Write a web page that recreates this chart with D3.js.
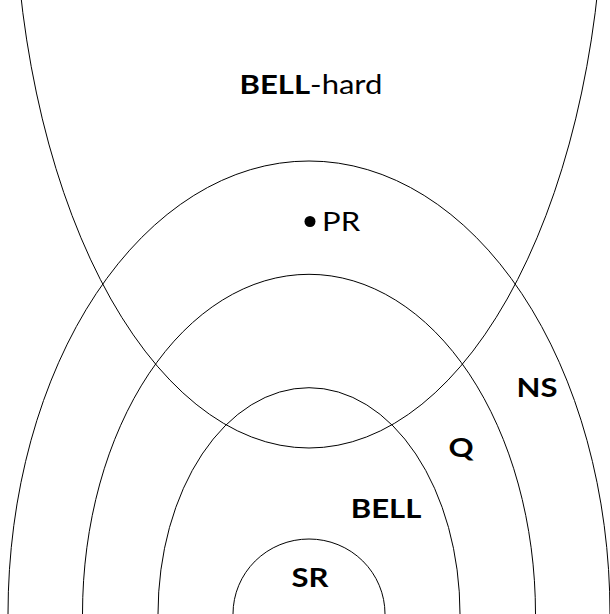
<!DOCTYPE html>
<html>
<head>
<meta charset="utf-8">
<script src="https://cdn.jsdelivr.net/npm/d3@7"></script>
<style>
  body { margin: 0; background: #fff; }
  svg { display: block; }
  text { font-family: Lato, "Open Sans", sans-serif; fill: #000; }
</style>
</head>
<body>
<svg id="diagram" width="610" height="614"></svg>
<script>
// nested classes, all centred on the bottom middle of the picture
var classes = ['SR', 'BELL', 'Q', 'NS'];
var classRx = [76, 151, 226.5, 301];
var classRy = [75, 226.3, 339.7, 453];

// the BELL-hard region: an ellipse hanging from above
var hardName = 'BELL-hard';
var hardCenter = [0, 741];
var hardRx = 295;
var hardRy = 575;

// labels, in diagram units (x from the centre line, y up from the bottom)
var labelNames = ['BELL-hard', 'PR', 'NS', 'Q', 'BELL', 'SR'];
var labelX = [2, 13, 228, 152, 77, 1];
var labelY = [520.5, 383, 216.7, 157, 95.7, 27.3];
var prPoint = [1, 392.5];

var svg = d3.select('#diagram'),
	width = +svg.attr('width'),
	height = +svg.attr('height');

var x = d3.scaleLinear().domain([-309, 301]).range([0, width]),
	y = d3.scaleLinear().domain([0, 614]).range([height, 0]);

var g = svg.append('g');

g.selectAll('.cls')
	.data(classes)
	.enter().append('ellipse')
	.attr('class', 'cls')
	.attr('cx', x(0))
	.attr('cy', y(0))
	.attr('rx', function(d, i) { return x(classRx[i]) - x(0); })
	.attr('ry', function(d, i) { return y(0) - y(classRy[i]); })
	.attr('fill', 'none')
	.attr('stroke', '#000')
	.attr('stroke-width', 1);

g.append('ellipse')
	.attr('class', 'hard')
	.attr('cx', x(hardCenter[0]))
	.attr('cy', y(hardCenter[1]))
	.attr('rx', x(hardRx) - x(0))
	.attr('ry', y(0) - y(hardRy))
	.attr('fill', 'none')
	.attr('stroke', '#000')
	.attr('stroke-width', 1);

g.append('circle')
	.attr('cx', x(prPoint[0]))
	.attr('cy', y(prPoint[1]))
	.attr('r', 5.5)
	.attr('fill', '#000');

var labels = g.selectAll('.label')
	.data(labelNames)
	.enter().append('text')
	.attr('class', 'label')
	.attr('transform', function(d, i) {
		return 'translate(' + x(labelX[i]) + ',' + y(labelY[i]) + ') scale(1.15,1)';
	})
	.attr('text-anchor', function(d) { return d === 'PR' ? 'start' : 'middle'; })
	.style('font-size', '27px')
	.style('font-weight', function(d) { return d === 'PR' ? 'normal' : 'bold'; });

labels.each(function(d) {
	var t = d3.select(this);
	if (d === hardName) {
		t.append('tspan').style('font-weight', 'bold').text('BELL');
		t.append('tspan').style('font-weight', 'normal').text('-hard');
	} else {
		t.text(d);
	}
});
</script>
</body>
</html>
